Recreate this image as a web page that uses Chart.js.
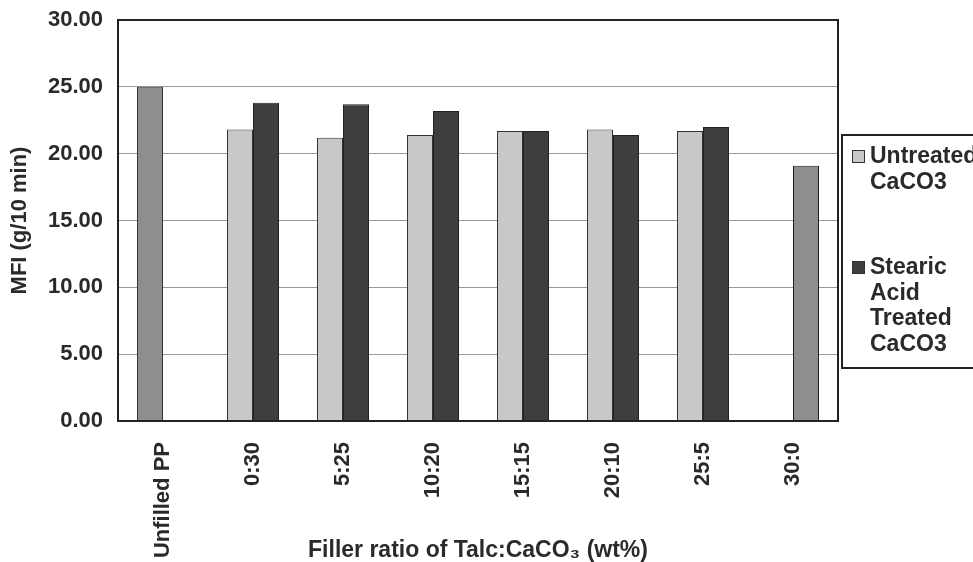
<!DOCTYPE html>
<html>
<head>
<meta charset="utf-8">
<script src="https://cdn.jsdelivr.net/npm/chart.js@4.4.1/dist/chart.umd.min.js"></script>
<style>
  html, body { margin: 0; padding: 0; background: #fff; }
  #wrap { width: 973px; height: 562px; }
</style>
</head>
<body>
<div id="wrap"><canvas id="mfi-chart" width="973" height="562"></canvas></div>
<script>
// categories (x axis)
const ratios = ['Unfilled PP', '0:30', '5:25', '10:20', '15:15', '20:10', '25:5', '30:0'];

// MFI values, g/10 min
const untreated = [25.0, 21.8, 21.2, 21.4, 21.7, 21.8, 21.7, null];
const stearic = [null, 23.8, 23.7, 23.2, 21.7, 21.4, 22.0, 19.1];

const seriesNames = ['Untreated CaCO3', 'Stearic Acid Treated CaCO3'];
const yTicks = [0, 5, 10, 15, 20, 25, 30];

const FONT = "'Liberation Sans', Arial, sans-serif";
const LIGHT = '#c8c8c8';
const DARK = '#3e3e3e';
const MID = '#8e8e8e';

// first and last bars (pure PP / pure talc) are a plain mid grey
const untreatedColors = untreated.map((v, i) => i === 0 ? MID : LIGHT);
const stearicColors = stearic.map((v, i) => i === ratios.length - 1 ? MID : DARK);

const frameAndLegend = {
    id: 'frameAndLegend',
    afterDraw(chart) {
        const { ctx, chartArea: a } = chart;
        ctx.save();
        // plot frame
        ctx.strokeStyle = '#222';
        ctx.lineWidth = 2;
        ctx.strokeRect(a.left, a.top, a.right - a.left, a.bottom - a.top);

        // legend box
        ctx.fillStyle = '#fff';
        ctx.fillRect(842, 135, 140, 233);
        ctx.strokeRect(842, 135, 140, 233);

        ctx.font = 'bold 23px ' + FONT;
        ctx.textBaseline = 'middle';
        ctx.textAlign = 'left';
        const swatch = [LIGHT, DARK];
        const startY = [157, 268];
        seriesNames.forEach((name, i) => {
            const lines = name.split(' ');
            ctx.fillStyle = swatch[i];
            ctx.fillRect(852, startY[i] - 7, 13, 13);
            ctx.lineWidth = 1;
            ctx.strokeStyle = '#333';
            ctx.strokeRect(852.5, startY[i] - 6.5, 12, 12);
            ctx.fillStyle = '#2a2a2a';
            lines.forEach((t, j) => ctx.fillText(t, 870, startY[i] + j * 25.5));
        });
        ctx.restore();
    }
};

new Chart(document.getElementById('mfi-chart'), {
    type: 'bar',
    data: {
        labels: ratios,
        datasets: [
            {
                label: seriesNames[0],
                data: untreated,
                backgroundColor: untreatedColors,
                borderColor: '#333',
                borderWidth: 1,
                categoryPercentage: 0.578,
                barPercentage: 1.0
            },
            {
                label: seriesNames[1],
                data: stearic,
                backgroundColor: stearicColors,
                borderColor: '#222',
                borderWidth: 1,
                categoryPercentage: 0.578,
                barPercentage: 1.0
            }
        ]
    },
    options: {
        responsive: false,
        animation: false,
        layout: { padding: { top: 20, right: 135, left: 0, bottom: 0 } },
        plugins: {
            legend: { display: false },
            tooltip: { enabled: false }
        },
        scales: {
            x: {
                grid: { display: false, drawTicks: false },
                border: { display: false },
                ticks: {
                    color: '#2a2a2a',
                    font: { family: FONT, size: 22, weight: 'bold' },
                    minRotation: 90,
                    maxRotation: 90,
                    padding: 21,
                    autoSkip: false
                },
                title: {
                    display: true,
                    text: 'Filler ratio of Talc:CaCO\u2083 (wt%)',
                    color: '#2a2a2a',
                    font: { family: FONT, size: 23, weight: 'bold', lineHeight: 1 },
                    padding: { top: 0, bottom: 0 }
                },
                afterFit(scale) { scale.height = 141; }
            },
            y: {
                min: 0,
                max: 30,
                grid: { color: '#9a9a9a', lineWidth: 1, drawTicks: false },
                border: { display: false },
                afterBuildTicks(scale) { scale.ticks = yTicks.map(v => ({ value: v })); },
                ticks: {
                    color: '#2a2a2a',
                    font: { family: FONT, size: 22, weight: 'bold' },
                    padding: 15,
                    callback: v => Number(v).toFixed(2)
                },
                title: {
                    display: true,
                    text: 'MFI (g/10 min)',
                    color: '#2a2a2a',
                    font: { family: FONT, size: 22, weight: 'bold' },
                    padding: { top: 7, bottom: 0 }
                },
                afterFit(scale) {
                    scale.width = 118;
                    scale.paddingTop = 0;
                    scale.paddingBottom = 0;
                }
            }
        }
    },
    plugins: [frameAndLegend]
});
</script>
</body>
</html>
